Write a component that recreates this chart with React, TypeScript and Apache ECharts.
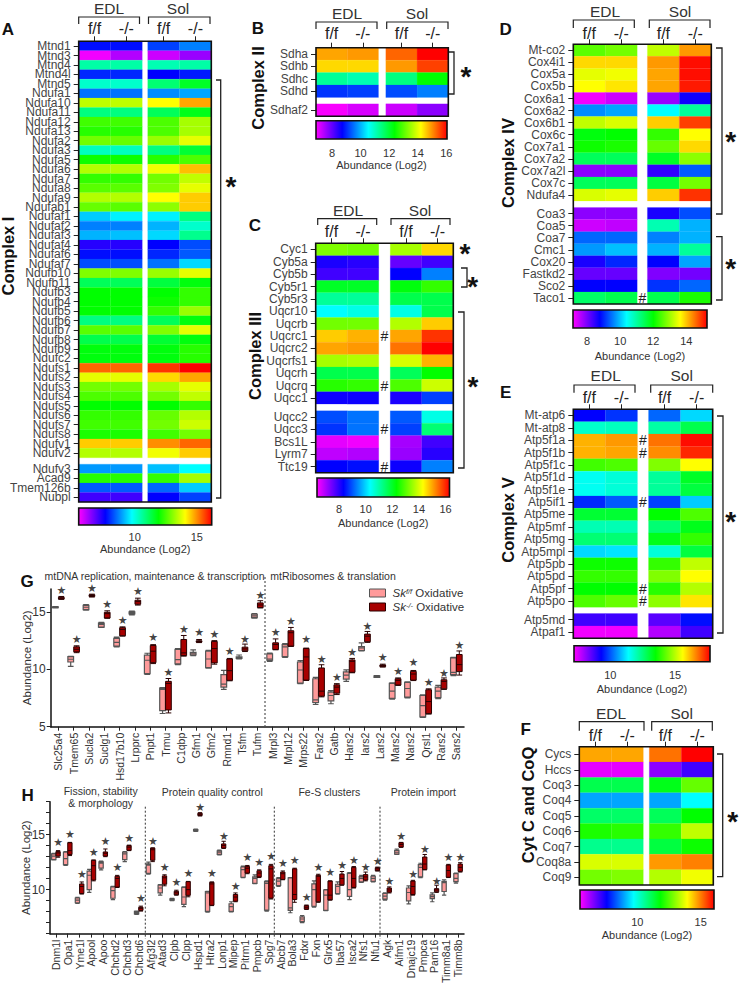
import React, { useEffect, useRef } from "react";
import * as echarts from "echarts";

const FONT = "Liberation Sans";
const RAINBOW = ["#ff00ff", "#0000ff", "#00ffff", "#00ff00", "#ffff00", "#ff0000"];
const COLUMN_LABELS = ["f/f", "-/-", "f/f", "-/-"];

const aRows = ["Mtnd1","Mtnd3","Mtnd4","Mtnd4l","Mtnd5","Ndufa1","Ndufa10","Ndufa11","Ndufa12","Ndufa13","Ndufa2","Ndufa3","Ndufa5","Ndufa6","Ndufa7","Ndufa8","Ndufa9","Ndufab1","Ndufaf1","Ndufaf2","Ndufaf3","Ndufaf4","Ndufaf6","Ndufaf7","Ndufb10","Ndufb11","Ndufb3","Ndufb4","Ndufb5","Ndufb6","Ndufb7","Ndufb8","Ndufb9","Ndufc2","Ndufs1","Ndufs2","Ndufs3","Ndufs4","Ndufs5","Ndufs6","Ndufs7","Ndufs8","Ndufv1","Ndufv2","Ndufv3","Acad9","Tmem126b","Nubpl"];
const aValues = [[7.75,7.75,8.18,8.71],[5.61,6.14,5.93,6.36],[10.53,10.53,10.42,10.53],[7.96,7.96,7.64,7.85],[10.21,10.21,10.96,11.6],[8.6,8.6,8.82,9.03],[13.53,13.53,14.06,14.81],[10.85,10.85,11.17,11.71],[12.46,12.46,12.56,13.31],[12.24,12.24,12.56,13.31],[12.88,12.78,13.2,13.85],[10.32,10.32,10.85,11.49],[12.03,12.03,12.24,12.56],[13.42,13.42,13.95,14.6],[12.35,12.35,12.88,13.53],[12.67,12.67,12.99,13.85],[13.42,13.42,14.06,14.49],[12.78,12.67,13.1,14.49],[9.35,9.67,9.67,10.85],[8.71,8.71,9.14,10.21],[9.14,9.25,9.46,10.74],[7.32,7.32,7.64,8.28],[7.75,7.75,7.96,8.39],[8.28,8.28,8.6,9.46],[12.99,12.99,13.2,13.85],[11.17,11.17,11.39,11.81],[11.92,11.92,11.92,12.35],[11.92,11.92,12.03,12.35],[11.92,11.92,12.35,13.2],[10.85,10.85,11.17,11.81],[12.67,12.67,12.99,13.85],[11.28,11.28,11.49,11.81],[11.81,11.81,11.81,12.24],[11.81,11.81,11.81,12.24],[15.34,15.34,15.77,16.2],[13.85,13.85,14.38,14.81],[12.88,12.88,13.31,13.85],[12.56,12.56,12.88,13.53],[11.92,11.92,11.92,12.35],[12.35,12.35,12.78,13.42],[12.46,12.46,12.88,13.63],[12.13,12.13,12.46,12.88],[14.49,14.49,15.02,15.34],[13.42,13.42,13.95,14.49],[8.92,8.92,9.25,9.78],[12.24,12.24,12.35,13.31],[8.39,8.39,8.5,9.35],[7.11,7.11,7.64,8.18]];
const bRows = ["Sdha","Sdhb","Sdhc","Sdhd","Sdhaf2"];
const bValues = [[14.86,14.95,15.32,16.05],[14.49,14.49,14.95,15.59],[11.28,11.1,11.46,12.38],[9.08,9.17,9.26,9.63],[6.92,7.16,7.25,7.71]];
const cRows = ["Cyc1","Cyb5a","Cyb5b","Cyb5r1","Cyb5r3","Uqcr10","Uqcrb","Uqcrc1","Uqcrc2","Uqcrfs1","Uqcrh","Uqcrq","Uqcc1","Uqcc2","Uqcc3","Bcs1L","Lyrm7","Ttc19"];
const cValues = [[13.31,13.21,13.61,14.61],[8.13,8.03,7.54,7.83],[7.83,7.83,8.33,9.33],[12.02,12.02,12.22,12.71],[11.12,11.12,11.72,11.72],[10.32,10.52,10.52,11.72],[13.21,13.21,13.71,14.71],[14.71,14.91,15.01,15.9],[15.01,15.11,15.4,16.3],[13.61,13.71,14.01,14.91],[11.72,11.72,11.62,12.32],[12.61,12.71,12.91,13.91],[8.23,8.23,8.13,8.83],[8.93,9.23,9.03,10.52],[8.73,9.23,8.83,11.42],[6.54,6.44,7.04,7.83],[6.84,6.94,7.14,8.03],[8.33,8.43,8.23,9.33]];
const dRows = ["Mt-co2","Cox4i1","Cox5a","Cox5b","Cox6a1","Cox6a2","Cox6b1","Cox6c","Cox7a1","Cox7a2","Cox7a2l","Cox7c","Ndufa4","Coa3","Coa5","Coa7","Cmc1","Cox20","Fastkd2","Sco2","Taco1"];
const dValues = [[12.58,12.74,13.23,14.28],[13.87,13.87,14.28,15.17],[13.47,13.55,14.2,15.17],[13.63,13.79,14.2,15.09],[7.23,7.47,7.8,8.69],[9.66,9.82,10.39,11.04],[13.23,13.39,13.95,14.85],[11.93,12.01,12.33,13.63],[12.09,12.17,12.66,13.87],[11.44,11.44,11.77,12.9],[7.88,7.88,8.45,9.34],[11.44,11.44,11.6,12.74],[13.39,13.47,13.95,14.93],[7.88,7.88,8.61,9.26],[7.47,7.55,10.88,9.9],[9.42,9.42,9.58,9.9],[9.74,9.99,9.9,11.04],[8.61,9.01,8.77,9.82],[8.12,8.12,7.96,8.04],[8.77,8.77,9.09,9.42],[11.36,11.52,11.52,12.17]];
const eRows = ["Mt-atp6","Mt-atp8","Atp5f1a","Atp5f1b","Atp5f1c","Atp5f1d","Atp5f1e","Atp5if1","Atp5me","Atp5mf","Atp5mg","Atp5mpl","Atp5pb","Atp5pd","Atp5pf","Atp5po","Atp5md","Atpaf1"];
const eValues = [[9.3,9.72,10.14,11.09],[11.82,11.93,12.14,12.87],[16.23,16.44,16.76,17.6],[16.23,16.34,16.55,17.39],[14.03,14.13,14.55,15.6],[11.51,11.72,12.24,13.19],[11.51,11.72,12.24,12.98],[9.62,10.04,9.83,10.98],[13.08,13.08,13.5,14.13],[12.03,12.03,12.56,13.29],[12.56,12.56,13.29,13.92],[11.09,11.19,11.72,12.98],[13.61,13.61,13.92,15.08],[13.92,13.92,14.55,15.6],[13.5,13.5,13.82,14.97],[14.13,14.34,14.66,15.81],[8.78,8.78,8.57,9.41],[7.31,7.31,7.83,8.78]];
const fRows = ["Cycs","Hccs","Coq3","Coq4","Coq5","Coq6","Coq7","Coq8a","Coq9"];
const fValues = [[14.67,14.67,15.1,16.05],[5.68,5.68,6.42,7.06],[11.18,11.18,11.61,12.66],[8.96,8.96,8.96,9.7],[10.97,10.97,11.08,11.82],[12.03,12.14,12.24,13.41],[10.65,10.65,11.29,11.92],[13.62,13.62,14.78,14.99],[12.77,12.88,13.3,13.83]];

const gCategories = ["Slc25a4","Tmem65","Sucla2","Suclg1","Hsd17b10","Lrpprc","Pnpt1","Trmu","C1qbp","Gfm1","Gfm2","Rmnd1","Tsfm","Tufm","Mrpl3","Mrpl12","Mrps22","Fars2","Gatb","Hars2","Iars2","Lars2","Mars2","Nars2","Qrsl1","Rars2","Sars2"];
const gFloxed = [[15.35,15.38,15.41,15.44,15.47],[10.26,10.64,10.88,11.1,11.14],[15.15,15.2,15.41,15.58,15.65],[13.65,13.68,13.92,14.03,14.1],[11.95,12.02,12.34,12.69,12.8],[14.75,14.82,14.91,15.0,15.08],[9.55,9.62,10.79,11.23,11.4],[6.15,6.4,8.25,8.36,8.4],[10.4,10.47,10.85,11.73,11.8],[11.2,11.26,11.4,11.49,11.7],[10.1,10.15,10.9,11.58,11.65],[8.25,8.45,8.71,9.53,9.9],[10.9,10.96,11.02,11.08,11.25],[14.47,14.5,14.65,14.8,14.85],[10.7,10.79,10.9,11.35,11.42],[11.05,11.11,11.96,12.16,12.25],[8.75,8.8,9.94,10.64,10.75],[6.95,7.11,7.34,9.18,9.3],[7.0,7.25,7.72,8.01,8.15],[8.95,9.15,9.5,9.77,9.95],[11.6,11.64,11.87,11.99,12.3],[9.3,9.3,9.39,9.44,9.45],[7.4,7.46,8.1,8.77,8.82],[7.5,7.57,8.33,8.86,8.9],[5.8,5.85,6.84,7.72,7.78],[7.45,7.54,8.1,8.45,8.6],[9.45,9.53,9.74,11.0,11.05]];
const gKnockout = [[16.1,16.12,16.2,16.28,16.35],[11.45,11.52,11.75,11.96,12.05],[16.3,16.35,16.43,16.5,16.55],[14.45,14.47,14.85,14.97,15.1],[12.9,12.92,13.48,13.63,13.7],[15.6,15.67,15.9,16.02,16.2],[10.5,10.58,11.58,12.08,12.15],[6.2,6.46,8.77,8.95,9.2],[11.15,11.2,11.43,12.6,12.95],[12.33,12.37,12.43,12.49,12.6],[10.45,10.56,11.81,12.43,12.5],[9.0,9.04,9.88,10.9,10.95],[11.55,11.61,11.78,11.93,12.2],[15.35,15.38,15.61,15.79,15.98],[11.7,11.73,12.16,12.31,12.65],[12.0,12.02,13.19,13.36,13.65],[9.03,9.06,11.08,11.81,11.85],[7.6,7.66,8.1,10.12,10.4],[7.8,7.92,8.45,8.65,8.75],[9.7,9.74,10.7,10.82,10.95],[12.35,12.4,12.89,13.07,13.3],[10.2,10.23,10.32,10.38,10.45],[8.6,8.63,9.04,9.18,9.25],[9.02,9.06,9.59,9.82,9.9],[6.1,6.14,7.19,8.22,8.3],[8.25,8.3,8.95,9.09,9.25],[9.5,9.8,10.41,11.29,11.6]];
const gStars = [16.9,12.57,17.08,15.61,14.27,16.78,12.75,9.74,13.48,13.22,13.07,11.58,12.63,16.46,13.25,14.15,12.57,10.88,9.3,11.46,13.77,11.02,9.8,10.56,8.83,9.65,12.05];

const hCategories = ["Dnm1l","Opa1","Yme1l","Apool","Apoo","Chchd2","Chchd3","Chchd6","Afg3l2","Atad3","Clpb","Clpp","Hspd1","Htra2","Lonp1","Mipep","Pitrm1","Pmpcb","Spg7","Abcb7","Bola3","Fdxr","Fxn","Glrx5","Iba57","Isca2","Nfs1","Nfu1","Agk","Aifm1","Dnajc19","Pmpca","Pam16","Timm8a1","Timm8b"];
const hFloxed = [[12.7,12.73,13.05,13.26,13.3],[12.2,12.27,12.82,13.4,13.45],[8.75,8.81,9.04,9.24,9.3],[9.75,10,11.31,11.69,11.85],[11.8,11.95,12.41,12.53,12.6],[9.1,9.22,9.91,10.26,10.3],[12.55,12.73,13.25,13.4,13.45],[7.75,7.79,7.91,8.02,8.05],[11.4,11.48,12.24,12.35,12.5],[9.5,9.71,10.15,10.41,10.45],[9.0,9.04,9.1,9.16,9.2],[8.45,8.66,9.33,10.2,10.25],[15.3,15.35,15.41,15.47,15.5],[7.95,8.02,9.71,9.83,9.85],[13.15,13.2,13.4,13.52,13.6],[7.98,8.02,8.46,8.72,8.9],[11.1,11.13,11.83,12.06,12.15],[10.55,10.58,11.02,11.16,11.35],[8.05,8.14,10.58,10.73,10.8],[10.3,10.38,10.78,10.99,11.1],[7.9,8.11,8.34,11.08,11.1],[7.0,7.09,7.33,7.53,7.65],[8.4,8.49,10,10.52,10.8],[8.1,8.11,9.51,9.97,10.0],[9.6,9.65,10.29,10.49,10.7],[9.1,9.39,10,11.48,11.55],[10.65,10.7,11.02,11.19,11.3],[10.7,10.76,11.02,11.22,11.3],[9.05,9.13,9.42,9.65,9.7],[13.2,13.23,13.4,13.58,13.7],[8.7,8.98,9.74,10.15,10.35],[11.1,11.16,12.03,12.27,12.4],[8.9,9.19,9.36,9.53,9.7],[9.5,9.83,10.64,10.76,10.9],[10.6,10.73,11.02,11.45,11.5]];
const hKnockout = [[12.95,13.05,13.34,13.46,13.55],[13.1,13.2,13.55,14.27,14.3],[9.6,9.65,10.29,10.52,10.7],[10.8,10.87,12.18,12.67,12.7],[13,13.05,13.31,13.43,13.7],[10.2,10.23,11.02,11.22,11.3],[13.55,13.58,13.87,14.01,14.05],[8.05,8.11,8.31,8.4,8.5],[12.55,12.67,13.63,13.78,13.8],[10.35,10.49,11.08,11.25,11.35],[9.5,9.53,9.71,9.85,9.95],[9.35,9.48,10,10.73,10.75],[16.7,16.74,16.86,16.95,17],[8.55,8.58,10.52,10.67,10.7],[13.75,13.78,14.01,14.16,14.4],[8.9,8.95,9.33,9.56,9.7],[11.45,11.51,11.95,12.12,12.2],[11.1,11.16,11.51,11.72,11.8],[9.15,9.22,11.89,12.18,12.3],[10.9,10.93,11.45,11.6,11.7],[8.85,9.1,9.56,11.89,11.95],[8.2,8.23,8.4,8.55,8.6],[8.85,8.9,11.22,11.31,11.4],[9.05,9.07,9.5,10.78,10.8],[10.4,10.44,11.02,11.42,11.65],[10.15,10.2,11.02,12.03,12.1],[10.8,10.87,11.16,11.37,11.6],[11.7,11.72,11.89,12.0,12.05],[9.7,9.77,9.97,10.15,10.25],[13.85,13.87,14.1,14.27,14.3],[9.5,9.56,10.29,10.78,10.85],[11.8,11.83,12.33,12.97,13.2],[9.75,9.8,9.97,10.09,10.4],[11.1,11.13,11.74,12.24,12.3],[11.6,11.66,12.03,12.33,12.45]];
const hStars = [14.27,15.0,11.37,13.34,14.39,12.01,14.68,9.22,14.42,12.01,10.64,11.45,17.47,11.45,14.83,10.32,12.91,12.47,13.05,12.35,12.62,9.27,12.03,11.6,12.24,12.67,12.03,12.56,10.7,14.8,11.4,13.69,10.73,12.91,12.94];

const gTicks = [5, 10, 15];
const hTicks = [10, 15];
const hMinorTicks = [6, 7, 8, 9, 10, 11, 12, 13, 14, 15, 16, 17, 18];

type Panel = {
  rows: string[]; values: number[][];
  box: number[]; bar: number[]; scale: number[]; ticks: number[];
  gapAfter: number; rowGap: number; colGap: number; labelCenter: number;
  barLabelDrop: number; barTitleDrop: number;
  hashes?: string[];
};

const panels: Panel[] = [
  { rows: aRows, values: aValues, box: [78.7, 41.3, 211.3, 502], bar: [78.7, 508, 211.7, 525], scale: [5.5, 16.2], ticks: [10, 15], gapAfter: 44, rowGap: 0.665, colGap: 0.173, labelCenter: 28, barLabelDrop: 12, barTitleDrop: 24 },
  { rows: bRows, values: bValues, box: [316, 47.7, 448.3, 116.3], bar: [316, 120.7, 447, 139], scale: [6.88, 16.05], ticks: [8, 10, 12, 14, 16], gapAfter: 4, rowGap: 0.516, colGap: 0.235, labelCenter: 33, barLabelDrop: 13.7, barTitleDrop: 26.7 },
  { rows: cRows, values: cValues, box: [315.7, 243.3, 453.3, 472.7], bar: [317, 478, 449.5, 497], scale: [6.34, 16.3], ticks: [8, 10, 12, 14, 16], gapAfter: 13, rowGap: 0.545, colGap: 0.365, labelCenter: 231, barLabelDrop: 12, barTitleDrop: 26, hashes: ["Uqcrc1", "Uqcrq", "Uqcc3", "Ttc19"] },
  { rows: dRows, values: dValues, box: [573.3, 44.3, 711.3, 304], bar: [573, 310, 707, 328], scale: [7.15, 15.25], ticks: [8, 10, 12, 14], gapAfter: 13, rowGap: 0.545, colGap: 0.32, labelCenter: 33, barLabelDrop: 12.7, barTitleDrop: 28.7, hashes: ["Taco1"] },
  { rows: eRows, values: eValues, box: [573.3, 409.3, 712.7, 638.3], bar: [574, 645.7, 710, 661.7], scale: [7.2, 17.7], ticks: [10, 15], gapAfter: 16, rowGap: 0.51, colGap: 0.346, labelCenter: 397, barLabelDrop: 13.3, barTitleDrop: 27.3, hashes: ["Atp5f1a", "Atp5f1b", "Atp5if1", "Atp5pf", "Atp5po"] },
  { rows: fRows, values: fValues, box: [579.3, 746.7, 713.3, 885], bar: [580, 890, 714, 909], scale: [5.47, 16.05], ticks: [10, 15], gapAfter: 99, rowGap: 0, colGap: 0.1875, labelCenter: 735, barLabelDrop: 13, barTitleDrop: 26.7 },
];

const headers = [
  { edl: [109, 8], sol: [178, 8], edlB: [78.7, 139.5, 17, 24], solB: [148.5, 210, 17, 24] },
  { edl: [347, 13], sol: [417, 13], edlB: [316, 377, 22, 29], solB: [386.7, 448, 22, 29] },
  { edl: [348, 210], sol: [420, 210], edlB: [317.7, 376.7, 218.7, 225], solB: [391, 450, 218.7, 225] },
  { edl: [605, 11], sol: [680, 11], edlB: [573.3, 634.3, 20, 28], solB: [649.3, 710, 20, 28] },
  { edl: [605.7, 375.7], sol: [681.7, 375.7], edlB: [574, 635, 385, 392.7], solB: [650.7, 712.7, 385, 392.7] },
  { edl: [611, 713], sol: [681.7, 713], edlB: [579.3, 644, 721.7, 730.7], solB: [651.7, 712.3, 721.7, 730.7] },
];

const sideBrackets = [
  [216, 220.7, 80, 498], [449, 454, 52, 94], [461, 467, 268, 287], [458, 464, 312, 468],
  [716, 722, 48, 214], [716, 722, 236.7, 300], [717, 723, 416, 633], [717, 722.7, 754, 876.7],
];
const bigStars = [[231, 180.7], [466, 70], [465, 247], [472.7, 280], [473, 380], [730.7, 135], [730.7, 262], [730.7, 515], [732.7, 815.7]];
const panelLetters = [["A", 8, 29], ["B", 258, 28], ["C", 255, 225], ["D", 505.7, 29], ["E", 505.7, 392], ["F", 525.7, 729.3], ["G", 27, 581], ["H", 27.7, 795]];
const sideTitles = [["Complex I", 8, 256], ["Complex II", 258, 88], ["Complex III", 255, 356], ["Complex IV", 508, 163], ["Complex V", 508, 520], ["Cyt C and CoQ", 528, 805]];
const sectionTitles = [
  ["mtDNA replication, maintenance & transcription", 154.5, 576], ["mtRibosomes & translation", 333, 576],
  ["Fission, stability", 100.7, 791], ["& morphology", 100.7, 802.7], ["Protein quality control", 212.3, 792.3],
  ["Fe-S clusters", 329.3, 792.3], ["Protein import", 423.3, 792.3],
];
const dividers = [[265, 577, 726], [145.3, 806.7, 939], [274.3, 806.7, 939], [380, 806.7, 939]];

function nearestLabel(value: number, positions: number[], labels: string[]) {
  let best = 0;
  positions.forEach((p, i) => { if (Math.abs(p - value) < Math.abs(positions[best] - value)) best = i; });
  return labels[best];
}

function buildOption() {
  const grid: any[] = [], xAxis: any[] = [], yAxis: any[] = [], series: any[] = [], visualMap: any[] = [], graphic: any[] = [];

  const txt = (text: string, x: number, y: number, font: string, extra: any = {}) =>
    graphic.push({ type: "text", x, y, silent: true, ...extra, style: { text, font, fill: extra.fill || "#222", align: "center", verticalAlign: "middle" } });

  panels.forEach((p, pi) => {
    const [l, t, r, b] = p.box;
    const g = grid.length;
    grid.push({ left: l, top: t, width: r - l, height: b - t, containLabel: false });
    const colPos = [0.5, 1.5, 2.5 + p.colGap, 3.5 + p.colGap];
    const hasGap = p.gapAfter < p.rows.length;
    const rowPos = p.rows.map((_, i) => i + 0.5 + (i >= p.gapAfter ? p.rowGap : 0));
    const xMax = 4 + p.colGap;
    const yMax = p.rows.length + (hasGap ? p.rowGap : 0);
    const labelMargin = t - p.labelCenter - 8;
    xAxis.push({
      gridIndex: g, type: "value", position: "top", min: 0, max: xMax,
      axisLine: { show: false }, splitLine: { show: false },
      axisTick: { show: true, customValues: colPos, length: 5, lineStyle: { color: "#222", width: 1 } },
      axisLabel: { show: true, customValues: colPos, margin: labelMargin, fontFamily: FONT, fontSize: 16, color: "#222", formatter: (v: number) => nearestLabel(v, colPos, COLUMN_LABELS) },
    });
    // Row names are split between two left axes (even and odd rows), so that tightly packed
    // neighbours on one axis never make ECharts drop the first or last name.
    [1, 0].forEach((parity) => {
      const vals = rowPos.filter((_, i) => i % 2 === parity);
      yAxis.push({
        gridIndex: g, type: "value", position: "left", inverse: true, min: 0, max: yMax,
        axisLine: { show: false }, splitLine: { show: false },
        axisTick: { show: true, customValues: vals, length: 5, lineStyle: { color: "#222", width: 1 } },
        axisLabel: { show: true, customValues: vals, margin: 8, fontFamily: FONT, fontSize: 12, color: "#444", formatter: (v: number) => nearestLabel(v, rowPos, p.rows) },
      });
    });
    const cells: number[][] = [];
    p.values.forEach((row, ri) => row.forEach((v, ci) => cells.push([colPos[ci], rowPos[ri], v])));
    const sIdx = series.length;
    series.push({
      type: "custom", xAxisIndex: xAxis.length - 1, yAxisIndex: yAxis.length - 1, silent: true, data: cells,
      dimensions: ["x", "y", "v"], encode: { x: 0, y: 1 },
      renderItem: (_: any, api: any) => {
        const x = api.value(0), y = api.value(1);
        const a = api.coord([x - 0.5, y - 0.5]), c = api.coord([x + 0.5, y + 0.5]);
        const color = api.visual("color");
        return { type: "rect", shape: { x: a[0], y: a[1], width: c[0] - a[0], height: c[1] - a[1] }, style: { fill: color, stroke: color, lineWidth: 0.2 } };
      },
    });
    visualMap.push({ show: false, type: "continuous", seriesIndex: sIdx, dimension: 2, min: p.scale[0], max: p.scale[1], inRange: { color: RAINBOW } });
    series.push({
      type: "custom", xAxisIndex: xAxis.length - 1, yAxisIndex: yAxis.length - 1, silent: true, z: 5, data: [[0, 0]],
      renderItem: (params: any) => ({ type: "rect", shape: { x: params.coordSys.x, y: params.coordSys.y, width: params.coordSys.width, height: params.coordSys.height }, style: { fill: "none", stroke: "#111", lineWidth: 1.6 } }),
    });

    // colour bar
    const [bl, bt, br, bb] = p.bar;
    const bg = grid.length;
    grid.push({ left: bl, top: bt, width: br - bl, height: bb - bt });
    const tickStyle = { color: "#111", width: 1.2 };
    xAxis.push({
      gridIndex: bg, type: "value", position: "bottom", min: p.scale[0], max: p.scale[1],
      axisLine: { show: false }, splitLine: { show: false },
      axisTick: { show: true, inside: true, length: 5, customValues: p.ticks, lineStyle: tickStyle },
      axisLabel: { show: true, customValues: p.ticks, margin: p.barLabelDrop - 5.5, fontFamily: FONT, fontSize: 11, color: "#333" },
      name: "Abundance (Log2)", nameLocation: "middle", nameGap: p.barTitleDrop - 6, nameTextStyle: { fontFamily: FONT, fontSize: 11, color: "#333" },
    });
    const barAxis = xAxis.length - 1;
    xAxis.push({
      gridIndex: bg, type: "value", position: "top", min: p.scale[0], max: p.scale[1],
      axisLine: { show: false }, splitLine: { show: false },
      axisTick: { show: true, inside: true, length: 5, customValues: p.ticks, lineStyle: tickStyle },
      axisLabel: { show: false },
    });
    yAxis.push({ gridIndex: bg, type: "value", min: 0, max: 1, show: false });
    const stops = RAINBOW.map((color, i) => ({ offset: i / (RAINBOW.length - 1), color }));
    series.push({
      type: "custom", xAxisIndex: barAxis, yAxisIndex: yAxis.length - 1, silent: true, data: [[p.scale[0], 0]],
      renderItem: (params: any) => ({
        type: "rect", shape: { x: params.coordSys.x, y: params.coordSys.y, width: params.coordSys.width, height: params.coordSys.height },
        style: { fill: new echarts.graphic.LinearGradient(0, 0, 1, 0, stops), stroke: "#111", lineWidth: 1.6 },
      }),
    });

    // headers
    const h = headers[pi];
    txt("EDL", h.edl[0], h.edl[1], `15.5px ${FONT}`, { fill: "#333" });
    txt("Sol", h.sol[0], h.sol[1], `15.5px ${FONT}`, { fill: "#333" });
    [h.edlB, h.solB].forEach(([x0, x1, y0, y1]) =>
      graphic.push({ type: "polyline", silent: true, shape: { points: [[x0, y1], [x0, y0], [x1, y0], [x1, y1]] }, style: { stroke: "#222", lineWidth: 1.2, fill: "none" } }));

    // "#" marks sit in the gap column, on the row they belong to
    const gapCentre = l + (r - l) * (2 + p.colGap / 2) / xMax;
    (p.hashes || []).forEach((name) => {
      const ri = p.rows.indexOf(name);
      txt("#", gapCentre, t + (b - t) * rowPos[ri] / yMax, `14px ${FONT}`);
    });
  });

  sideBrackets.forEach(([x0, x1, y0, y1]) =>
    graphic.push({ type: "polyline", silent: true, shape: { points: [[x0, y0], [x1, y0], [x1, y1], [x0, y1]] }, style: { stroke: "#222", lineWidth: 1.3, fill: "none" } }));
  bigStars.forEach(([x, y]) => txt("*", x, y + 6, `bold 28px ${FONT}`, { fill: "#111" }));
  panelLetters.forEach(([s, x, y]) => txt(s as string, x as number, y as number, `bold 17px ${FONT}`, { fill: "#111" }));
  sideTitles.forEach(([s, x, y]) => txt(s as string, x as number, y as number, `bold 16.5px ${FONT}`, { fill: "#111", rotation: Math.PI / 2 }));
  sectionTitles.forEach(([s, x, y]) => txt(s as string, x as number, y as number, `10.5px ${FONT}`, { fill: "#333" }));
  dividers.forEach(([x, y0, y1]) =>
    graphic.push({ type: "line", silent: true, shape: { x1: x, y1: y0, x2: x, y2: y1 }, style: { stroke: "#333", lineWidth: 1, lineDash: [2, 2] } }));

  // box plots
  const addBoxes = (box: number[], yMin: number, yMax: number, cats: string[], ff: number[][], ko: number[][], stars: number[],
    tickVals: number[], labelVals: number[], boxW: number, starOff: number, nameGap: number) => {
    const g = grid.length;
    grid.push({ left: box[0], top: box[1], width: box[2], height: box[3] });
    xAxis.push({
      gridIndex: g, type: "category", data: cats, position: "bottom",
      axisLine: { show: true, lineStyle: { color: "#111", width: 1.5 } },
      axisTick: { show: true, alignWithLabel: true, length: 4, lineStyle: { color: "#222", width: 1 } },
      axisLabel: { show: true, interval: 0, rotate: 90, margin: 6, fontFamily: FONT, fontSize: 10.5, color: "#333" },
      splitLine: { show: false },
    });
    yAxis.push({
      gridIndex: g, type: "value", min: yMin, max: yMax, splitLine: { show: false },
      axisLine: { show: true, lineStyle: { color: "#111", width: 1.5 } },
      axisTick: { show: true, customValues: tickVals, length: 4, lineStyle: { color: "#222", width: 1 } },
      axisLabel: { show: true, customValues: labelVals, margin: 5, fontFamily: FONT, fontSize: 12, color: "#333" },
      name: "Abundance (Log2)", nameLocation: "middle", nameGap, nameMoveOverlap: false, nameTextStyle: { fontFamily: FONT, fontSize: 11.5, color: "#333" },
    });
    const xi = xAxis.length - 1, yi = yAxis.length - 1;
    series.push({ name: "ff", type: "boxplot", xAxisIndex: xi, yAxisIndex: yi, silent: true, boxWidth: [boxW, boxW], data: ff, itemStyle: { color: "#ff9a9a", borderColor: "#555", borderWidth: 1.2 } });
    series.push({ name: "ko", type: "boxplot", xAxisIndex: xi, yAxisIndex: yi, silent: true, boxWidth: [boxW, boxW], data: ko, itemStyle: { color: "#a80000", borderColor: "#2a0000", borderWidth: 1 } });
    series.push({
      name: "stars", type: "scatter", xAxisIndex: xi, yAxisIndex: yi, silent: true, clip: false, symbolSize: 1, itemStyle: { color: "rgba(0,0,0,0)" },
      data: stars.map((v, i) => [i, v]),
      label: { show: true, position: "inside", offset: [starOff, 0], formatter: "★", fontFamily: "DejaVu Sans", fontSize: 11, color: "#111" },
    });
  };
  addBoxes([50.7, 589, 413.3, 137.7], 5, 17, gCategories, gFloxed, gKnockout, gStars, gTicks, gTicks, 5.7, 3, 18);
  addBoxes([50, 801.7, 414, 137.3], 6, 18, hCategories, hFloxed, hKnockout, hStars, hMinorTicks, hTicks, 4.3, 2.3, 18);

  const legendRich = {
    i: { fontFamily: FONT, fontStyle: "italic", fontSize: 11.5, color: "#333" },
    s: { fontFamily: FONT, fontStyle: "italic", fontSize: 7.5, color: "#333", verticalAlign: "top" },
    n: { fontFamily: FONT, fontSize: 11.5, color: "#333" },
  };

  return {
    animation: false,
    backgroundColor: "#fff",
    legend: {
      left: 369, top: 587, orient: "vertical", padding: 0, itemGap: 2, itemWidth: 16, itemHeight: 8, icon: "rect", selectedMode: false,
      data: [
        { name: "ff", itemStyle: { color: "#ff9a9a", borderColor: "#555", borderWidth: 1 } },
        { name: "ko", itemStyle: { color: "#a80000", borderColor: "#2a0000", borderWidth: 1 } },
      ],
      textStyle: { rich: legendRich, padding: [0, 0, 0, 2] },
      formatter: (n: string) => (n === "ff" ? "{i|Sk}{s|f/f}{n| Oxidative}" : "{i|Sk}{s|-/-}{n| Oxidative}"),
    },
    grid, xAxis, yAxis, series, visualMap, graphic,
  };
}

export default function App() {
  const ref = useRef<HTMLDivElement>(null);
  useEffect(() => {
    const chart = echarts.init(ref.current!, undefined, { renderer: "svg" });
    chart.setOption(buildOption() as any);
    return () => chart.dispose();
  }, []);
  return <div ref={ref} style={{ position: "absolute", left: 0, top: 0, width: 740, height: 986 }} />;
}
